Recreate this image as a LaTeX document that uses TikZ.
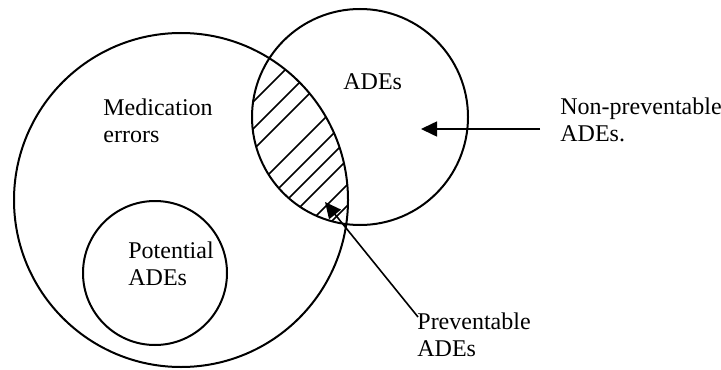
\documentclass[tikz,border=0pt]{standalone}
\usepackage{fontspec}
\setmainfont{Liberation Serif}
\usetikzlibrary{arrows.meta}

\begin{document}
\begin{tikzpicture}[x=0.5pt,y=-0.5pt,
  ring/.style={draw,circle,line width=1pt,inner sep=0pt,outer sep=0pt},
  lbl/.style={anchor=base west,align=left,inner sep=0pt,font=\fontsize{12}{13.5}\selectfont},
  pointer/.style={-{Triangle[length=8pt,width=7.5pt]},line width=0.8pt},
  hatch/.style={line width=0.8pt}]
\useasboundingbox (0,0) rectangle (721,369);

% Circles
\node[ring,minimum size=167pt] (errors) at (181,200) {};
\node[ring,minimum size=108pt] (ades) at (360,117) {};
\node[ring,minimum size=72pt] (potential) at (155,273) {};

% Hatching of the overlap
\begin{scope}
\clip (errors.center) circle[radius=83.5pt];
\clip (ades.center) circle[radius=54pt];
\foreach \c in {355,382,403,443,467,487,507,532,553}
  \draw[hatch] (\c-260,260) -- (\c-40,40);
\end{scope}

% Labels (base = last line)
\node[lbl] (mederr) at (103,142) {Medication\\errors};
\node[lbl] (potlbl) at (128,285) {Potential\\ADEs};
\node[lbl] (adelbl) at (343,90) {ADEs};
\node[lbl] (nonprev) at (560,141) {Non-preventable\\ADEs.};
\node[lbl] (prev) at (417,356) {Preventable\\ADEs};

% Arrows
\coordinate (nptail) at (540,129);
\coordinate (nptip) at (421,129);
\coordinate (ptail) at (418,317);
\coordinate (ptip) at (325,202);
\draw[pointer] (nptail) -- (nptip);
\draw[pointer] (ptail) -- (ptip);
\end{tikzpicture}
\end{document}
